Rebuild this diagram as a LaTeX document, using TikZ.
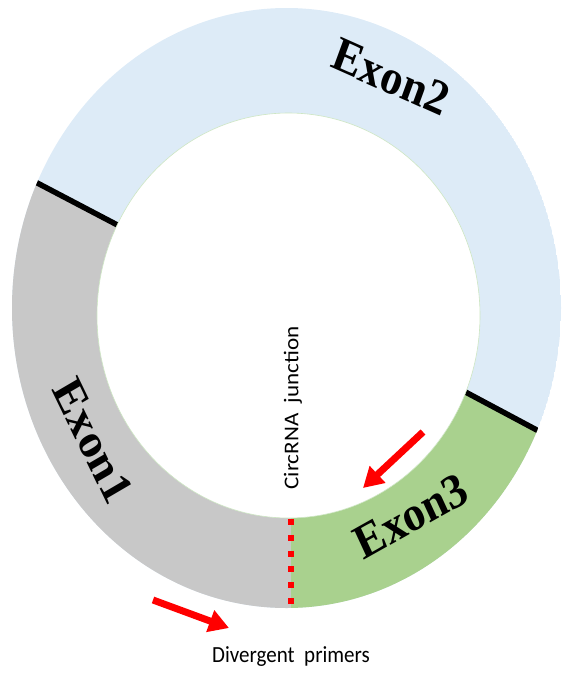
\documentclass[tikz,border=0pt]{standalone}
\usepackage{fontspec}
\setmainfont{Liberation Serif}
\newfontfamily\calib{Carlito}
\usetikzlibrary{arrows.meta}
\definecolor{exonblue}{RGB}{221,235,247}
\definecolor{exongray}{RGB}{200,200,200}
\definecolor{exongreen}{RGB}{169,209,142}
\definecolor{ringedge}{RGB}{205,230,195}
\definecolor{primerred}{RGB}{255,0,0}
\begin{document}
\begin{tikzpicture}[x=1pt,y=-1pt,
  exonlabel/.style={font=\bfseries\fontsize{44.5}{50}\selectfont, inner sep=0pt, yscale=1.1},
  smalllabel/.style={font=\calib\fontsize{21}{25}\selectfont, inner sep=0pt, yscale=1.1},
  separator/.style={line width=5.5pt, black},
  primer/.style={primerred, line width=7pt, -{Triangle[length=20pt,width=22pt]}},
  junctionline/.style={primerred, line width=6pt, dash pattern=on 6pt off 9.8pt}]
\useasboundingbox (0,0) rectangle (562,677);
\coordinate (C) at (286.5,308);
\coordinate (Ci) at (288.5,315.5);
\begin{scope}
  \clip (C) ellipse [x radius=274.5pt, y radius=300pt];
  \fill[exonblue] (C) ellipse [x radius=274.5pt, y radius=300pt];
  \fill[exongray] (291,316) -- (-100,111) -- (-100,800) -- (291,800) -- cycle;
  \fill[exongreen] (291,299) -- (700,517) -- (700,800) -- (291,800) -- cycle;
  \coordinate (S1a) at (291,316);
  \coordinate (S1b) at (-100,111);
  \coordinate (S2a) at (291,299);
  \coordinate (S2b) at (700,517);
  \draw[separator] (S1a) -- (S1b);
  \draw[separator] (S2a) -- (S2b);
\end{scope}
\fill[white, draw=ringedge, line width=0.6pt] (Ci) ellipse [x radius=191.5pt, y radius=202.5pt];
\coordinate (J1) at (291,519);
\coordinate (J2) at (291,608);
\draw[junctionline] (J1) -- (J2);
\coordinate (A1s) at (423,432);
\coordinate (A1e) at (363,488);
\draw[primer] (A1s) -- (A1e);
\coordinate (A2s) at (153,600);
\coordinate (A2e) at (229,628);
\draw[primer] (A2s) -- (A2e);
\node[exonlabel, rotate=-22] (exon2) at (391,77) {Exon2};
\node[exonlabel, rotate=-62] (exon1) at (93,441) {Exon1};
\node[exonlabel, rotate=27] (exon3) at (411,516) {Exon3};
\node[smalllabel, rotate=90] (junc) at (293,408) {CircRNA\ \ junction};
\node[smalllabel] (prim) at (291,657) {Divergent\ \ primers};
\end{tikzpicture}
\end{document}
